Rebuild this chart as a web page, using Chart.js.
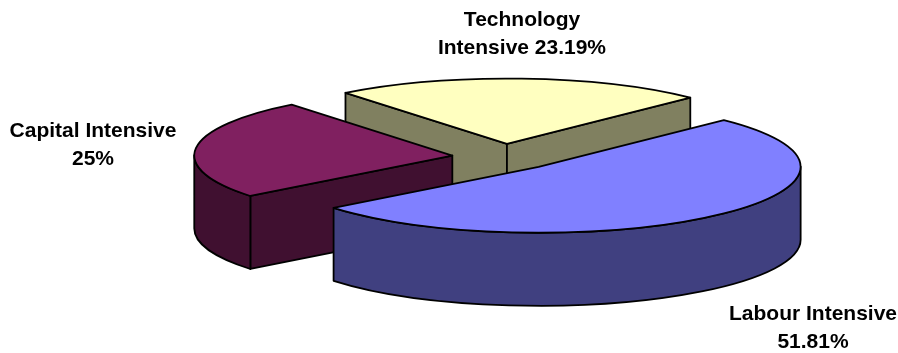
<!DOCTYPE html>
<html>
<head>
<meta charset="utf-8">
<title>Technology, capital and labour intensive shares</title>
<script src="https://cdn.jsdelivr.net/npm/chart.js@4"></script>
<style>
    html, body { margin: 0; padding: 0; background: #fff; }
    #wrap { width: 898px; height: 353px; }
</style>
</head>
<body>
<div id="wrap"><canvas id="pie" width="898" height="353"></canvas></div>
<script>
const categories = ['Technology Intensive', 'Labour Intensive', 'Capital Intensive'];
const shares = [23.19, 51.81, 25];
const shareLabels = ['23.19%', '51.81%', '25%'];
const topColors = ['#FFFFC0', '#8080FF', '#802060'];
const sideColors = ['#808060', '#404080', '#401030'];

const tilt = 66 / 262;      // how much the round pie is squashed
const depth = 73;           // height of the walls
const explode = 52;         // how far slices are pulled from the centre
const sliceScale = [0.99, 1, 0.985];   // the back slices look a bit smaller
const paintOrder = [0, 2, 1];          // back slice first, the big front slice last

// where each label sits, and how its text breaks into lines
const labelBoxes = [
    { x: 522, y: 20, lines: (name, pct) => ['Technology', 'Intensive ' + pct] },
    { x: 813, y: 314, lines: (name, pct) => [name, pct] },
    { x: 93, y: 131, lines: (name, pct) => [name, pct] }
];

function slicePoints(arc, i) {
    const mid = (arc.startAngle + arc.endAngle) / 2;
    const vx = arc.x + Math.cos(mid) * explode;
    const vy = arc.y + Math.sin(mid) * explode * tilt;
    const rx = arc.outerRadius * sliceScale[i];
    const ry = rx * tilt;
    return { vx, vy, rx, ry };
}

function drawCutWall(ctx, s, a) {
    const px = s.vx + s.rx * Math.cos(a);
    const py = s.vy + s.ry * Math.sin(a);
    ctx.beginPath();
    ctx.moveTo(s.vx, s.vy);
    ctx.lineTo(px, py);
    ctx.lineTo(px, py + depth);
    ctx.lineTo(s.vx, s.vy + depth);
    ctx.closePath();
    ctx.fill();
    ctx.stroke();
}

function drawWalls(ctx, arc, i) {
    const s = slicePoints(arc, i);
    ctx.fillStyle = sideColors[i];

    // a cut face only shows when it looks towards the viewer
    if (Math.cos(arc.startAngle) < 0) drawCutWall(ctx, s, arc.startAngle);
    if (Math.cos(arc.endAngle) > 0) drawCutWall(ctx, s, arc.endAngle);

    // the round outside wall only shows on the front half
    const from = Math.max(arc.startAngle, 0);
    const to = Math.min(arc.endAngle, Math.PI);
    if (to > from) {
        ctx.beginPath();
        ctx.ellipse(s.vx, s.vy, s.rx, s.ry, 0, from, to);
        ctx.ellipse(s.vx, s.vy + depth, s.rx, s.ry, 0, to, from, true);
        ctx.closePath();
        ctx.fill();
        ctx.stroke();
    }
}

function drawTop(ctx, arc, i) {
    const s = slicePoints(arc, i);
    ctx.save();
    ctx.translate(s.vx, s.vy);
    ctx.scale(sliceScale[i], sliceScale[i] * tilt);
    ctx.translate(-arc.x, -arc.y);
    arc.draw(ctx);
    ctx.restore();

    ctx.beginPath();
    ctx.moveTo(s.vx, s.vy);
    ctx.ellipse(s.vx, s.vy, s.rx, s.ry, 0, arc.startAngle, arc.endAngle);
    ctx.closePath();
    ctx.stroke();
}

const pie3d = {
    id: 'pie3d',
    beforeDatasetDraw(chart, args) {
        const ctx = chart.ctx;
        ctx.save();
        ctx.strokeStyle = '#000';
        ctx.lineWidth = 1.8;
        ctx.lineJoin = 'round';
        paintOrder.forEach(i => {
            drawWalls(ctx, args.meta.data[i], i);
            drawTop(ctx, args.meta.data[i], i);
        });
        ctx.restore();
        return false;
    },
    afterDraw(chart) {
        const ctx = chart.ctx;
        ctx.save();
        ctx.fillStyle = '#000';
        ctx.font = 'bold 21px "Liberation Sans", Arial, sans-serif';
        ctx.textAlign = 'center';
        ctx.textBaseline = 'middle';
        labelBoxes.forEach((box, i) => {
            box.lines(categories[i], shareLabels[i]).forEach((line, n) => {
                ctx.fillText(line, box.x, box.y + n * 28);
            });
        });
        ctx.restore();
    }
};

new Chart(document.getElementById('pie'), {
    type: 'pie',
    data: {
        labels: categories,
        datasets: [{
            data: shares,
            backgroundColor: topColors,
            borderWidth: 0
        }]
    },
    options: {
        responsive: false,
        animation: false,
        radius: 262,
        rotation: -38.5,
        layout: { padding: { left: 110, bottom: 39 } },
        plugins: { legend: { display: false }, tooltip: { enabled: false } }
    },
    plugins: [pie3d]
});
</script>
</body>
</html>
